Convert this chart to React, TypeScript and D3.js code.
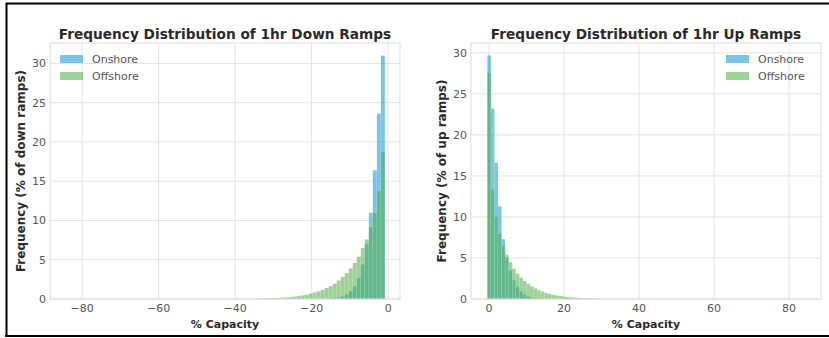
import React from "react";
import * as d3 from "d3";

// ---- data (percent of ramps per bin) ----
const downBinEnd = -0.85; // right edge of the last (nearest-zero) bin
const downBinWidth = 1.05;
// values listed from the bin nearest 0 going left
const downOnshore = [31, 23.6, 16.4, 11.0, 7.0, 4.4, 2.7, 1.6, 0.95, 0.55, 0.32, 0.18, 0.1, 0.06, 0.03, 0.02, 0.01];
const downOffshore = [18.8, 13.8, 11.0, 9.2, 7.6, 6.5, 5.4, 4.6, 3.9, 3.3, 2.8, 2.35, 1.95, 1.65, 1.4, 1.15, 0.98, 0.82, 0.68, 0.56, 0.46, 0.38, 0.31, 0.26, 0.21, 0.17, 0.14, 0.11, 0.09, 0.07, 0.05, 0.04, 0.03, 0.025, 0.02, 0.015, 0.01];

const upBinStart = -0.45;
const upBinWidth = 0.95;
const upOnshore = [29.7, 23.2, 16.6, 11.3, 7.3, 5.0, 3.5, 2.3, 1.5, 0.9, 0.55, 0.3, 0.17, 0.09, 0.05, 0.03, 0.01];
const upOffshore = [27.6, 13.4, 10.0, 8.0, 6.5, 5.4, 4.5, 3.7, 3.1, 2.6, 2.2, 1.85, 1.55, 1.3, 1.08, 0.9, 0.75, 0.62, 0.52, 0.44, 0.37, 0.31, 0.26, 0.21, 0.17, 0.14, 0.11, 0.09, 0.07, 0.05, 0.04, 0.03, 0.02, 0.015, 0.01];

const downXTicks = [-80, -60, -40, -20, 0];
const upXTicks = [0, 20, 40, 60, 80];
const yTicks = [0, 5, 10, 15, 20, 25, 30];
const seriesNames = ["Onshore", "Offshore"];

const ON_FILL = "#2fa6dc";
const ON_OP = 0.65;
const OFF_FILL = "#4caf3f";
const OFF_OP = 0.55;
const FONT = "DejaVu Sans, sans-serif";

type Bin = { x0: number; x1: number; v: number };

function downBins(vals: number[]): Bin[] {
  return vals.map((v, i) => ({
    x0: downBinEnd - (i + 1) * downBinWidth,
    x1: downBinEnd - i * downBinWidth,
    v,
  }));
}
function upBins(vals: number[]): Bin[] {
  return vals.map((v, i) => ({
    x0: upBinStart + i * upBinWidth,
    x1: upBinStart + (i + 1) * upBinWidth,
    v,
  }));
}

type PanelProps = {
  left: number;
  right: number;
  top: number;
  bottom: number;
  xDomain: [number, number];
  yMax: number;
  xTicks: number[];
  title: string;
  yLabel: string;
  onshore: Bin[];
  offshore: Bin[];
  legendRight: boolean;
};

function fmt(t: number) {
  return t < 0 ? "\u2212" + Math.abs(t) : String(t);
}

function Panel(p: PanelProps) {
  const x = d3.scaleLinear().domain(p.xDomain).range([p.left, p.right]);
  const y = d3.scaleLinear().domain([0, p.yMax]).range([p.bottom, p.top]);
  const cx = (p.left + p.right) / 2;
  const cy = (p.top + p.bottom) / 2;
  const bar = (b: Bin, i: number, fill: string, op: number) => (
    <rect
      key={i}
      x={x(b.x0)}
      y={y(b.v)}
      width={x(b.x1) - x(b.x0)}
      height={y(0) - y(b.v)}
      fill={fill}
      fillOpacity={op}
      stroke="#ffffff"
      strokeOpacity={0.25}
      strokeWidth={0.4}
    />
  );
  const lgX = p.legendRight ? p.right - 95 : p.left + 10;
  return (
    <g fontFamily={FONT}>
      {/* grid */}
      {p.xTicks.map((t) => (
        <line key={"gx" + t} x1={x(t)} x2={x(t)} y1={p.top} y2={p.bottom} stroke="#e3e3e3" strokeWidth={1} />
      ))}
      {yTicks.map((t) => (
        <line key={"gy" + t} x1={p.left} x2={p.right} y1={y(t)} y2={y(t)} stroke="#e3e3e3" strokeWidth={1} />
      ))}
      {/* bars */}
      <g>{p.onshore.map((b, i) => bar(b, i, ON_FILL, ON_OP))}</g>
      <g>{p.offshore.map((b, i) => bar(b, i, OFF_FILL, OFF_OP))}</g>
      {/* frame */}
      <rect x={p.left} y={p.top} width={p.right - p.left} height={p.bottom - p.top} fill="none" stroke="#dcdcdc" strokeWidth={1} />
      {/* ticks */}
      {p.xTicks.map((t) => (
        <text key={"tx" + t} x={x(t)} y={p.bottom + 13} textAnchor="middle" fontSize={11} fill="#555">
          {fmt(t)}
        </text>
      ))}
      {yTicks.map((t) => (
        <text key={"ty" + t} x={p.left - 4} y={y(t) + 4} textAnchor="end" fontSize={11} fill="#555">
          {t}
        </text>
      ))}
      {/* title */}
      <text x={cx} y={p.top - 4} textAnchor="middle" fontSize={13.7} fontWeight="bold" fill="#2a2a2a">
        {p.title}
      </text>
      <text x={cx} y={p.bottom + 29} textAnchor="middle" fontSize={11} fontWeight="bold" fill="#2a2a2a">
        % Capacity
      </text>
      <text
        transform={`translate(${p.left - 25},${cy}) rotate(-90)`}
        textAnchor="middle"
        fontSize={12}
        fontWeight="bold"
        fill="#2a2a2a"
      >
        {p.yLabel}
      </text>
      {/* legend */}
      {seriesNames.map((n, i) => (
        <g key={n}>
          <rect x={lgX} y={55 + i * 17} width={23} height={8} fill={i === 0 ? ON_FILL : OFF_FILL} fillOpacity={i === 0 ? ON_OP : OFF_OP} />
          <text x={lgX + 32} y={63 + i * 17} fontSize={11} fill="#555">
            {n}
          </text>
        </g>
      ))}
    </g>
  );
}

export default function App() {
  return (
    <svg width={829} height={338} style={{ position: "absolute", left: 0, top: 0, background: "#fff" }}>
      <rect x={0} y={0} width={829} height={338} fill="#fff" />
      <Panel
        left={50}
        right={400}
        top={43}
        bottom={299}
        xDomain={[-88.4, 3.1]}
        yMax={32.6}
        xTicks={downXTicks}
        title="Frequency Distribution of 1hr Down Ramps"
        yLabel="Frequency (% of down ramps)"
        onshore={downBins(downOnshore)}
        offshore={downBins(downOffshore)}
        legendRight={false}
      />
      <Panel
        left={471}
        right={821}
        top={43}
        bottom={299}
        xDomain={[-4.8, 88.5]}
        yMax={31.2}
        xTicks={upXTicks}
        title="Frequency Distribution of 1hr Up Ramps"
        yLabel="Frequency (% of up ramps)"
        onshore={upBins(upOnshore)}
        offshore={upBins(upOffshore)}
        legendRight={true}
      />
      {/* outer frame */}
      <path d="M6.5,337 L6.5,3.5 L829,3.5" fill="none" stroke="#000" strokeWidth={2} />
      <line x1={5} x2={829} y1={336} y2={336} stroke="#000" strokeWidth={2} />
    </svg>
  );
}
